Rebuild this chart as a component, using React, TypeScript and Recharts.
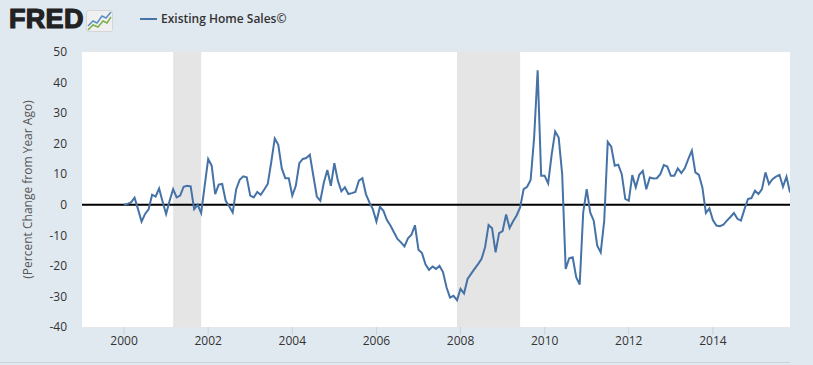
import { LineChart, Line, XAxis, YAxis, CartesianGrid, ReferenceArea, ReferenceLine } from 'recharts';

const START_YEAR = 2000;

// year-over-year % change, monthly from Jan 2000
const salesChange = [
  0, 0.3, 0.8, 2.3, -1.5, -5.5, -3, -1.5, 3.3, 2.7, 5.3, 1,
  -3, 1.3, 5.1, 2.4, 3, 5.9, 6.2, 6, -1.4, 0, -2.7, 6.2,
  15, 12.8, 3.5, 6.6, 6.8, 1.3, -0.5, -2.5, 5.1, 8.2, 9.3, 9,
  3, 2.4, 4.2, 3.3, 5, 6.8, 14, 21.7, 19.6, 11.9, 8.7, 8.7,
  3, 6.2, 13.6, 15, 15.3, 16.4, 9.5, 2.7, 1.3, 7.3, 11.4, 6.2,
  13.6, 7.9, 4.4, 5.7, 3.5, 3.8, 4.2, 7.9, 8.7, 3.5, 0.8, -1.5,
  -5.5, -0.7, -2, -5, -6.8, -9, -11.2, -12.3, -13.6, -11, -9.8, -6.7,
  -14.7, -15.8, -19.5, -21.3, -20.2, -21, -20, -22, -27, -30.4, -29.8, -31.2,
  -27.5, -29, -24.3, -22.6, -21, -19.4, -17.7, -13.9, -6.6, -7.7, -15.6, -9.3,
  -8.6, -3.2, -7.6, -5.4, -3.5, -0.9, 5.1, 5.9, 8.1, 22, 44, 9.5,
  9.5, 7, 16.4, 24, 22, 10, -21, -17.5, -17.2, -23.7, -26.1, -2.5,
  5.1, -2.5, -5.2, -13.4, -15.6, -5.2, 20.6, 19, 12.8, 13.1, 10, 1.9,
  1.3, 9.7, 5.7, 9.8, 11.1, 5.1, 8.9, 8.6, 8.7, 10, 13, 12.5,
  9.5, 9.5, 11.9, 10.4, 12, 15, 17.7, 10.6, 9.8, 5.7, -2.7, -1.2,
  -5, -6.8, -7, -6.5, -5.2, -4, -2.7, -4.6, -5.2, -1.5, 1.9, 2.2,
  4.6, 3.5, 5.1, 10.6, 6.8, 8.4, 9.2, 9.8, 5.9, 9.2, 4,
];

const yearTicks = [2000, 2002, 2004, 2006, 2008, 2010, 2012, 2014];
const valueTicks = [-40, -30, -20, -10, 0, 10, 20, 30, 40, 50];

// NBER recessions as [start, end] in fractional years
const recessions = [
  [2001 + 2 / 12, 2001 + 10 / 12],
  [2007 + 11 / 12, 2009 + 5 / 12],
];

const data = salesChange.map((v, i) => ({ t: START_YEAR + i / 12, value: v }));
const lastT = START_YEAR + (salesChange.length - 1) / 12;

const BG = '#e1e9f0';
const BLUE = '#4572a7';
const FONT = '"Open Sans", "DejaVu Sans", sans-serif';

function FredLogo() {
  return (
    <div style={{ position: 'absolute', left: 9, top: 4, display: 'flex', alignItems: 'center' }}>
      <span style={{ fontFamily: '"Liberation Sans", Arial, sans-serif', fontWeight: 900, fontSize: 27, letterSpacing: 0.3, color: '#222', WebkitTextStroke: '1.2px #222' }}>
        FRED
      </span>
      <svg width={27} height={22} style={{ marginLeft: 2, marginTop: 3 }}>
        <rect x={0.5} y={0.5} width={26} height={21} rx={2} fill="#f0f0f0" stroke="#d6d6d6" />
        <polyline points="2,16 7,11 11,13 16,6 20,8 25,2" fill="none" stroke="#5b8fc4" strokeWidth={1.5} />
        <polyline points="2,20 7,15 12,17 17,11 21,13 25,7" fill="none" stroke="#7db04a" strokeWidth={1.5} />
      </svg>
    </div>
  );
}

export default function App() {
  return (
    <div style={{ position: 'absolute', left: 0, top: 0, width: 813, height: 365, background: BG, overflow: 'hidden', fontFamily: FONT }}>
      <FredLogo />
      <div style={{ position: 'absolute', left: 140, top: 18, width: 17, height: 2, background: BLUE }} />
      <div style={{ position: 'absolute', left: 161, top: 10, fontSize: 12, fontWeight: 600, color: '#333' }}>
        Existing Home Sales©
      </div>
      <div style={{ position: 'absolute', left: 0, top: 362, width: 790, height: 1, background: '#c8d4e0' }} />
      <div style={{ position: 'absolute', left: 0, top: 0 }}>
        <LineChart width={813} height={365} data={data} margin={{ top: 52, right: 23, bottom: 8, left: 32 }}>
          <rect x={82} y={52} width={708} height={275} fill="#ffffff" />
          <CartesianGrid horizontal vertical={false} stroke="#e6e6e6" strokeWidth={1} />
          {recessions.map(([a, b], i) => (
            <ReferenceArea key={i} x1={a} x2={b} fill="#e5e5e5" fillOpacity={1} stroke="none" ifOverflow="hidden" />
          ))}
          <XAxis
            dataKey="t"
            type="number"
            domain={[1999, lastT]}
            ticks={yearTicks}
            interval={0}
            allowDataOverflow
            height={30}
            axisLine={false}
            tickLine={{ stroke: '#c8d4e0' }}
            tickSize={8}
            tickMargin={1}
            tick={{ fontSize: 12, fill: '#333', fontFamily: FONT }}
          />
          <YAxis
            type="number"
            domain={[-40, 50]}
            ticks={valueTicks}
            interval={0}
            width={50}
            axisLine={false}
            tickLine={false}
            tickSize={0}
            tickMargin={15}
            tick={{ fontSize: 12, fill: '#333', fontFamily: FONT }}
            label={{ value: '(Percent Change from Year Ago)', angle: -90, position: 'left', offset: 4, style: { fontSize: 12, fill: '#555', fontFamily: FONT, textAnchor: 'middle' } }}
          />
          <ReferenceLine y={0} stroke="#000" strokeWidth={2} />
          <Line type="linear" dataKey="value" stroke={BLUE} strokeWidth={2} dot={false} isAnimationActive={false} />
        </LineChart>
      </div>
    </div>
  );
}
